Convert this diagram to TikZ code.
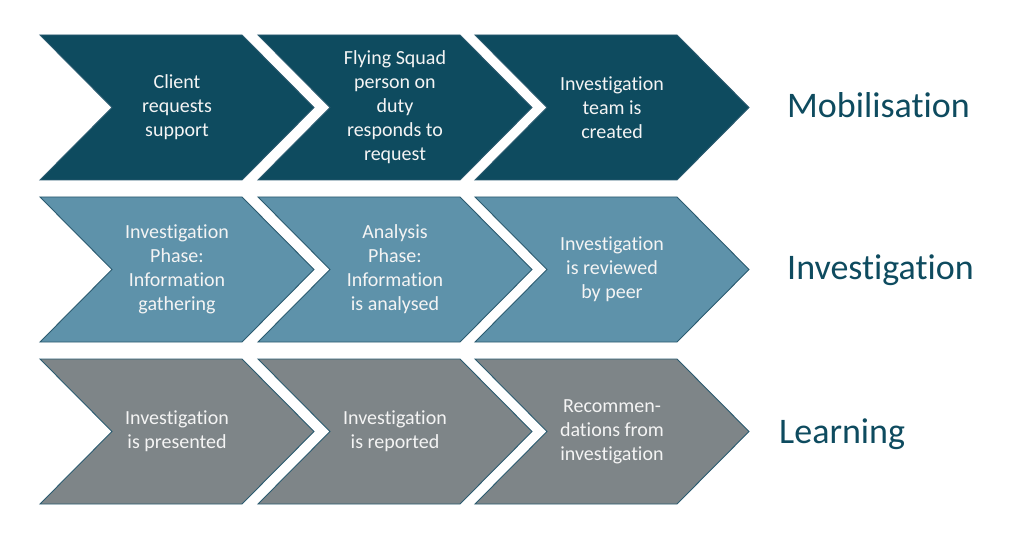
\documentclass[tikz,border=0pt]{standalone}
\usepackage{fontspec}
\setmainfont{Carlito}[Ligatures=NoCommon]
\definecolor{mob}{HTML}{0E4B5F}
\definecolor{inv}{HTML}{5E92AA}
\definecolor{lea}{HTML}{7E8588}
\definecolor{edgec}{HTML}{2B5B70}
\definecolor{lbl}{HTML}{0E4B5F}
\definecolor{txt}{HTML}{F4F4F4}
\tikzset{
  chev/.style={draw=edgec, line width=0.9pt, line join=miter},
  ctext/.style={text=txt, font=\fontsize{20}{24}\selectfont, align=center, inner sep=0pt},
  phase/.style={text=lbl, font=\fontsize{36}{40}\selectfont, anchor=base west, inner sep=0pt}
}
\newcommand\mychev[5]{%
  \draw[chev, fill=#4] (#2,#3) -- ++(202,0) -- ++(72,72.5) -- ++(-72,72.5) -- ++(-202,0) -- ++(72,-72.5) -- cycle;
  \node[ctext] (#1) at (#2+137,#3+72.5) {#5};
}
\begin{document}
\begin{tikzpicture}[x=1pt,y=-1pt]
\useasboundingbox (0,0) rectangle (1024,545);
% row 1
\mychev{a1}{40}{35}{mob}{Client\\requests\\support}
\mychev{a2}{258}{35}{mob}{Flying Squad\\person on\\duty\\responds to\\request}
\mychev{a3}{475}{35}{mob}{Investigation\\team is\\created}
\node[phase] (p1) at (787,118) {Mobilisation};
% row 2
\mychev{b1}{40}{197}{inv}{Investigation\\Phase:\\Information\\gathering}
\mychev{b2}{258}{197}{inv}{Analysis\\Phase:\\Information\\is analysed}
\mychev{b3}{475}{197}{inv}{Investigation\\is reviewed\\by peer}
\node[phase] (p2) at (787,279) {Investigation};
% row 3
\mychev{c1}{40}{359}{lea}{Investigation\\is presented}
\mychev{c2}{258}{359}{lea}{Investigation\\is reported}
\mychev{c3}{475}{359}{lea}{Recommen-\\dations from\\investigation}
\node[phase] (p3) at (779,443) {Learning};
\end{tikzpicture}
\end{document}
